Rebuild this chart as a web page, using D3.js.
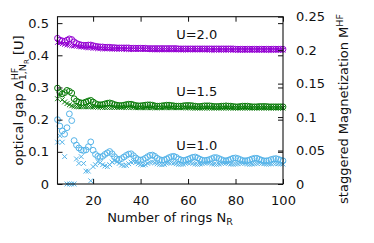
<!DOCTYPE html>
<html><head><meta charset="utf-8">
<script src="https://cdn.jsdelivr.net/npm/d3@7"></script>
<style>
html,body{margin:0;padding:0;background:#fff;}
svg{display:block;font-family:"DejaVu Sans",sans-serif;}
text{white-space:pre;}
</style></head>
<body><svg id="c" width="374" height="243"></svg>
<script>
// ---- data ----
const ringsN = [5,6,7,8,9,10,11,12,13,14,15,16,17,18,19,20,21,22,23,24,25,26,27,28,29,30,31,32,33,34,35,36,37,38,39,40,41,42,43,44,45,46,47,48,49,50,51,52,53,54,55,56,57,58,59,60,61,62,63,64,65,66,67,68,69,70,71,72,73,74,75,76,77,78,79,80,81,82,83,84,85,86,87,88,89,90,91,92,93,94,95,96,97,98,99,100];

const gapU20circ = [0.453,0.447,0.445,0.443,0.447,0.451,0.449,0.442,0.437,0.434,
  0.432,0.431,0.431,0.432,0.432,0.430,0.428,0.427,0.426,0.426,
  0.425,0.425,0.425,0.424,0.424,0.423,0.423,0.423,0.423,0.423,
  0.423,0.422,0.422,0.422,0.422,0.422,0.422,0.422,0.421,0.421,
  0.421,0.421,0.421,0.421,0.421,0.421,0.421,0.421,0.421,0.421,
  0.421,0.420,0.420,0.420,0.420,0.420,0.420,0.420,0.420,0.420,
  0.420,0.420,0.420,0.420,0.420,0.420,0.420,0.420,0.420,0.420,
  0.420,0.420,0.420,0.420,0.420,0.419,0.419,0.419,0.419,0.419,
  0.419,0.419,0.419,0.419,0.419,0.419,0.419,0.419,0.419,0.419,
  0.419,0.419,0.419,0.419,0.419,0.419];
const gapU20cross = [0.440,0.438,0.436,0.434,0.432,0.431,0.430,0.429,0.428,0.427,
  0.426,0.425,0.424,0.423,0.423,0.422,0.422,0.421,0.421,0.420,
  0.420,0.420,0.420,0.419,0.419,0.419,0.419,0.419,0.419,0.418,
  0.418,0.418,0.418,0.418,0.418,0.418,0.418,0.418,0.418,0.418,
  0.417,0.417,0.417,0.417,0.417,0.417,0.417,0.417,0.417,0.417,
  0.417,0.417,0.417,0.417,0.417,0.417,0.417,0.417,0.417,0.417,
  0.417,0.417,0.417,0.417,0.416,0.416,0.416,0.416,0.416,0.416,
  0.416,0.416,0.416,0.416,0.416,0.416,0.416,0.416,0.416,0.416,
  0.416,0.416,0.416,0.416,0.416,0.416,0.416,0.416,0.416,0.416,
  0.416,0.416,0.416,0.416,0.416,0.416];

const gapU15circ = [0.298,0.285,0.280,0.284,0.291,0.288,0.283,0.265,0.258,0.254,
  0.252,0.252,0.255,0.258,0.260,0.255,0.250,0.247,0.246,0.247,
  0.249,0.251,0.252,0.250,0.247,0.245,0.244,0.244,0.245,0.247,
  0.248,0.248,0.246,0.244,0.243,0.243,0.244,0.245,0.246,0.246,
  0.245,0.243,0.242,0.242,0.243,0.244,0.245,0.245,0.244,0.243,
  0.242,0.242,0.242,0.243,0.244,0.244,0.244,0.243,0.242,0.241,
  0.241,0.242,0.243,0.243,0.243,0.242,0.241,0.241,0.241,0.242,
  0.242,0.243,0.242,0.242,0.241,0.240,0.240,0.241,0.242,0.242,
  0.242,0.241,0.240,0.240,0.240,0.241,0.241,0.241,0.241,0.240,
  0.240,0.240,0.240,0.240,0.240,0.240];
const gapU15cross = [0.265,0.278,0.262,0.255,0.250,0.246,0.243,0.241,0.240,0.240,
  0.240,0.240,0.240,0.240,0.240,0.239,0.239,0.239,0.239,0.238,
  0.238,0.238,0.238,0.238,0.238,0.238,0.238,0.238,0.238,0.238,
  0.238,0.238,0.238,0.237,0.237,0.237,0.237,0.237,0.237,0.237,
  0.237,0.237,0.237,0.237,0.237,0.237,0.237,0.237,0.237,0.237,
  0.237,0.237,0.237,0.237,0.237,0.237,0.236,0.236,0.236,0.236,
  0.236,0.236,0.236,0.236,0.236,0.236,0.236,0.236,0.236,0.236,
  0.236,0.236,0.236,0.236,0.236,0.236,0.236,0.236,0.236,0.236,
  0.236,0.236,0.236,0.236,0.236,0.236,0.236,0.236,0.236,0.236,
  0.236,0.236,0.236,0.236,0.236,0.236];

const gapU10circ = [0.200,0.180,0.165,0.155,0.175,0.218,0.197,0.135,0.121,0.112,
  0.106,0.104,0.106,0.116,0.131,0.105,0.092,0.086,0.083,0.086,
  0.092,0.097,0.101,0.094,0.085,0.078,0.076,0.079,0.084,0.089,
  0.093,0.094,0.088,0.081,0.076,0.074,0.076,0.080,0.085,0.089,
  0.090,0.086,0.080,0.076,0.074,0.075,0.078,0.082,0.085,0.086,
  0.083,0.078,0.075,0.073,0.074,0.077,0.080,0.083,0.084,0.081,
  0.077,0.074,0.073,0.074,0.076,0.079,0.082,0.082,0.079,0.076,
  0.073,0.072,0.074,0.077,0.080,0.081,0.079,0.076,0.073,0.072,
  0.073,0.075,0.078,0.080,0.080,0.077,0.074,0.072,0.072,0.073,
  0.076,0.078,0.079,0.077,0.074,0.072];
const gapU10cross = [0.130,0.150,0.130,0.085,0,0,0,0,0.078,0.064,
  0.085,0.064,0.040,0.040,0.010,0.054,0.060,0.070,0.066,0.060,
  0.056,0.054,0.060,0.068,0.072,0.069,0.064,0.059,0.057,0.058,
  0.063,0.068,0.070,0.067,0.063,0.060,0.059,0.060,0.064,0.067,
  0.068,0.066,0.063,0.061,0.060,0.061,0.064,0.066,0.067,0.065,
  0.063,0.061,0.061,0.062,0.064,0.066,0.066,0.064,0.062,0.061,
  0.062,0.063,0.065,0.066,0.065,0.063,0.062,0.061,0.062,0.064,
  0.065,0.065,0.064,0.062,0.061,0.062,0.063,0.065,0.065,0.064,
  0.062,0.061,0.062,0.063,0.064,0.065,0.064,0.063,0.062,0.062,
  0.063,0.064,0.064,0.063,0.062,0.062];

const xTicks = [20,40,60,80,100];
const yLeftTicks = [0,0.1,0.2,0.3,0.4,0.5];
const yRightTicks = [0,0.05,0.1,0.15,0.2,0.25];
const seriesLabels = ["U=2.0","U=1.5","U=1.0"];
const labelPos = [[55,0.452],[55,0.272],[55,0.105]]; // [N, gap] anchor of labels

// ---- layout ----
const L=57.5, R=283, T=16.7, B=184;
const svg = d3.select("#c");
const x = d3.scaleLinear().domain([5,100]).range([L,R]);
const y = d3.scaleLinear().domain([0,0.52]).range([B,T]);
const y2 = d3.scaleLinear().domain([0,0.25]).range([B,T]);
const FS = 13, ink = "#111";

const series = [
  {v:gapU20circ, c:"#9400d3", m:"o"},
  {v:gapU20cross, c:"#9400d3", m:"x"},
  {v:gapU15circ, c:"#0a7d0a", m:"o"},
  {v:gapU15cross, c:"#0a7d0a", m:"x"},
  {v:gapU10circ, c:"#56b4e9", m:"o"},
  {v:gapU10cross, c:"#56b4e9", m:"x"}
];

const gData = svg.append("g");
series.forEach(s=>{
  const pts = ringsN.map((n,i)=>[n,s.v[i]]);
  if(s.m==="o"){
    gData.append("g").selectAll("circle").data(pts).join("circle")
      .attr("cx",d=>x(d[0])).attr("cy",d=>y(d[1])).attr("r",2.9)
      .attr("fill","none").attr("stroke",s.c).attr("stroke-width",1);
  } else {
    const k=2.4;
    gData.append("g").selectAll("path").data(pts).join("path")
      .attr("d",d=>{const px=x(d[0]),py=y(d[1]);return `M${px-k},${py-k}L${px+k},${py+k}M${px-k},${py+k}L${px+k},${py-k}`;})
      .attr("fill","none").attr("stroke",s.c).attr("stroke-width",1);
  }
});

function styleAxis(g){
  g.select(".domain").remove();
  g.selectAll("line").attr("stroke",ink).attr("stroke-width",1);
  g.selectAll("text").attr("font-size",FS).attr("fill",ink).attr("font-family","DejaVu Sans");
}
const fmt = d=> d===0?"0":String(d);
svg.append("g").attr("transform",`translate(0,${B})`)
  .call(d3.axisBottom(x).tickValues(xTicks).tickSize(-5).tickPadding(12).tickFormat(d3.format("d"))).call(styleAxis);
svg.append("g").attr("transform",`translate(0,${T})`)
  .call(d3.axisTop(x).tickValues(xTicks).tickSize(-5).tickFormat("")).call(styleAxis);
svg.append("g").attr("transform",`translate(${L},0)`)
  .call(d3.axisLeft(y).tickValues(yLeftTicks).tickSize(-5).tickPadding(8.5).tickFormat(fmt)).call(styleAxis);
svg.append("g").attr("transform",`translate(${R},0)`)
  .call(d3.axisRight(y).tickValues(yLeftTicks).tickSize(-5).tickFormat("")).call(styleAxis);
svg.append("g").attr("transform",`translate(${R},0)`)
  .call(d3.axisRight(y2).tickValues(yRightTicks).tickSize(-5).tickPadding(13).tickFormat(fmt)).call(styleAxis);

svg.append("rect").attr("x",L).attr("y",T).attr("width",R-L).attr("height",B-T)
  .attr("fill","none").attr("stroke",ink).attr("stroke-width",1.1);

// series labels
seriesLabels.forEach((t,i)=>{
  svg.append("text").attr("x",x(labelPos[i][0])).attr("y",y(labelPos[i][1]))
    .attr("font-size",FS).attr("fill",ink).text(t);
});

// rich text helper
function rich(g, parts){
  let cx=0, resetX=null, maxX=0;
  parts.forEach(p=>{
    if(p.reset){ cx = resetX; }
    if(p.mark){ resetX = cx; }
    if(p.after){ cx = Math.max(cx, maxX); }
    const el = g.append("text").attr("x",cx).attr("y",p.shift||0)
      .attr("font-size",p.size).attr("fill",ink).text(p.t);
    cx += el.node().getComputedTextLength();
    maxX = Math.max(maxX,cx);
  });
  return maxX;
}

// x title
{
  const g = svg.append("g");
  const w = rich(g,[{t:"Number of rings N",size:FS},{t:"R",size:9.5,shift:3.5}]);
  g.attr("transform",`translate(${170-w/2},221.5)`);
}
// left title
{
  const g = svg.append("g");
  const w = rich(g,[{t:"optical gap Δ",size:FS},
    {t:"HF",size:9.5,shift:-5.5,mark:true},
    {t:"1,N",size:9.5,shift:3,reset:true},
    {t:"R",size:7,shift:5.5},
    {t:" [U]",size:FS,after:true}]);
  g.attr("transform",`translate(23,${100.5+w/2}) rotate(-90)`);
}
// right title
{
  const g = svg.append("g");
  const w = rich(g,[{t:"staggered Magnetization M",size:FS},{t:"HF",size:9.5,shift:-5.5}]);
  g.attr("transform",`translate(348,${109+w/2}) rotate(-90)`);
}
</script></body></html>
